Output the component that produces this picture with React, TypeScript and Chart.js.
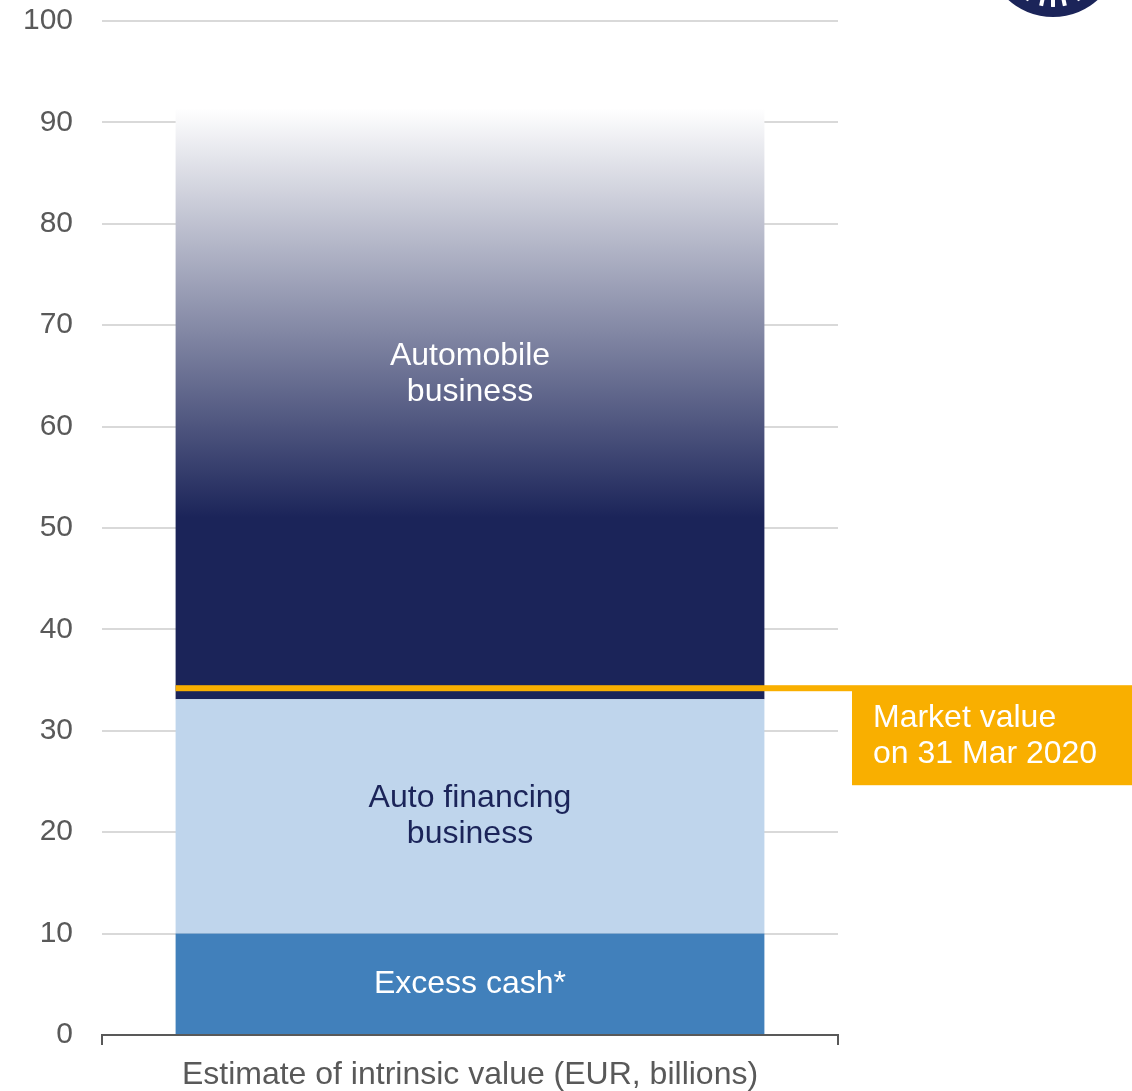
import React, { useEffect, useRef } from "react";
import { Chart, registerables } from "chart.js";

Chart.register(...registerables);

const categories = ["Estimate of intrinsic value (EUR, billions)"];
const excessCash = [10];
const autoFinancing = [23.1];
const automobileBusiness = [58.3];
const marketValue = 34.2;
const yTickValues = [0, 10, 20, 30, 40, 50, 60, 70, 80, 90, 100];
const segmentNames = ["Excess cash*", "Auto financing business", "Automobile business"];
const segmentLabelLines = [["Excess cash*"], ["Auto financing", "business"], ["Automobile", "business"]];
const marketLabelLines = ["Market value", "on 31 Mar 2020"];
const gradientSolidValue = 51;

const NAVY = "#1B2459";
const CASH = "#4180BB";
const LIGHT = "#BFD5EC";
const ORANGE = "#F9AF00";
const GREY = "#595959";
const FONT = "'Liberation Sans', Arial, sans-serif";

export default function App() {
  const ref = useRef<HTMLCanvasElement | null>(null);

  useEffect(() => {
    const canvas = ref.current;
    if (!canvas) return;

    const overlay = {
      id: "overlay",
      afterDatasetsDraw(chart: any) {
        const ctx = chart.ctx;
        const y = chart.scales.y;
        const colors = ["#FFFFFF", NAVY, "#FFFFFF"];
        ctx.save();
        ctx.font = `32px ${FONT}`;
        ctx.textAlign = "center";
        ctx.textBaseline = "middle";
        chart.data.datasets.forEach((ds: any, i: number) => {
          const meta = chart.getDatasetMeta(i);
          const el = meta.data[0];
          if (!el) return;
          const lines = segmentLabelLines[i];
          let cy = (el.y + el.base) / 2;
          if (i === 2) {
            const base = y.getValueForPixel(el.base);
            cy = y.getPixelForValue((base + 97.3) / 2);
          }
          ctx.fillStyle = colors[i];
          const lh = 36;
          lines.forEach((t: string, k: number) => {
            ctx.fillText(t, el.x, cy + (k - (lines.length - 1) / 2) * lh);
          });
        });
        const el0 = chart.getDatasetMeta(0).data[0];
        const left = el0.x - el0.width / 2;
        const my = y.getPixelForValue(marketValue);
        const boxLeft = chart.chartArea.right + 14;
        const lw = 6;
        ctx.fillStyle = ORANGE;
        ctx.fillRect(left, my - lw / 2, boxLeft - left, lw);
        const boxTop = my - lw / 2;
        ctx.fillRect(boxLeft, boxTop, chart.width - boxLeft, 100);
        ctx.fillStyle = "#FFFFFF";
        ctx.textAlign = "left";
        ctx.font = `32px ${FONT}`;
        ctx.fillText(marketLabelLines[0], boxLeft + 21, boxTop + 33);
        ctx.fillText(marketLabelLines[1], boxLeft + 21, boxTop + 69);
        ctx.restore();
      },
      afterDraw(chart: any) {
        const ctx = chart.ctx;
        ctx.save();
        const cx = 1053, cy = -50, r = 67;
        ctx.beginPath();
        ctx.arc(cx, cy, r, 0, Math.PI * 2);
        ctx.fillStyle = NAVY;
        ctx.fill();
        ctx.beginPath();
        ctx.arc(cx, cy, r - 10, 0, Math.PI * 2);
        ctx.clip();
        ctx.strokeStyle = "#FFFFFF";
        ctx.lineWidth = 4;
        [-28, -12, 0, 12, 28].forEach((deg) => {
          const a = Math.PI / 2 + (deg * Math.PI) / 180;
          ctx.beginPath();
          ctx.moveTo(cx + Math.cos(a) * 30, cy + Math.sin(a) * 30);
          ctx.lineTo(cx + Math.cos(a) * r, cy + Math.sin(a) * r);
          ctx.stroke();
        });
        ctx.restore();
      },
    };

    const chart = new Chart(canvas, {
      type: "bar",
      data: {
        labels: categories,
        datasets: [
          { label: segmentNames[0], data: excessCash, backgroundColor: CASH },
          { label: segmentNames[1], data: autoFinancing, backgroundColor: LIGHT },
          {
            label: segmentNames[2],
            data: automobileBusiness,
            backgroundColor: (c: any) => {
              const ch = c.chart;
              const ys = ch.scales.y;
              if (!ch.chartArea || !ys) return NAVY;
              const bottomVal = excessCash[0] + autoFinancing[0];
              const topVal = bottomVal + automobileBusiness[0];
              const y0 = ys.getPixelForValue(gradientSolidValue);
              const y1 = ys.getPixelForValue(topVal);
              const g = ch.ctx.createLinearGradient(0, y0, 0, y1);
              g.addColorStop(0, NAVY);
              g.addColorStop(1, "#FFFFFF");
              return g;
            },
          },
        ],
      },
      options: {
        responsive: false,
        animation: false,
        devicePixelRatio: 1,
        layout: { padding: { top: 21, right: 294, left: 0, bottom: 0 } },
        plugins: { legend: { display: false }, tooltip: { enabled: false } },
        datasets: { bar: { barPercentage: 0.8, categoryPercentage: 1.0, borderWidth: 0 } },
        scales: {
          x: {
            stacked: true,
            offset: true,
            grid: {
              offset: true,
              drawOnChartArea: false,
              drawTicks: true,
              tickLength: 10,
              color: GREY,
              lineWidth: 2,
            },
            border: { display: true, color: GREY, width: 2 },
            ticks: { color: GREY, font: { family: FONT, size: 32 }, padding: 11 },
            afterFit: (s: any) => {
              s.height = 56;
              s.paddingLeft = 0;
              s.paddingRight = 0;
            },
          },
          y: {
            stacked: true,
            min: 0,
            max: 100,
            afterBuildTicks: (s: any) => {
              s.ticks = yTickValues.map((v) => ({ value: v }));
            },
            grid: { color: "#D9D9D9", lineWidth: 2, drawTicks: false },
            border: { display: false },
            ticks: { color: GREY, font: { family: FONT, size: 30 }, padding: 29 },
            afterFit: (s: any) => {
              s.width = 102;
              s.paddingTop = 0;
              s.paddingBottom = 0;
            },
          },
        },
      },
      plugins: [overlay],
    });

    return () => chart.destroy();
  }, []);

  return (
    <div style={{ position: "absolute", left: 0, top: 0, width: 1132, height: 1091 }}>
      <canvas ref={ref} width={1132} height={1091} style={{ width: 1132, height: 1091 }} />
    </div>
  );
}
